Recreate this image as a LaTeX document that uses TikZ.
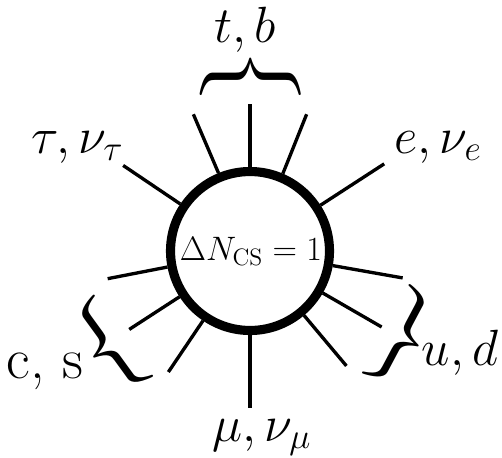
\RequirePackage{fix-cm}
\documentclass[tikz,border=0pt]{standalone}
\usepackage{amsmath,amssymb}
\usetikzlibrary{positioning, calc}

\newcommand{\bigbrace}[1]{\scalebox{1.25}[1]{$\big#1$}}

\begin{document}
\begin{tikzpicture}[x=0.02cm, y=0.02cm, every node/.style={align=center},
    spoke/.style={line width=1.9pt},
    lbl/.style={anchor=base, inner sep=0pt, font=\fontsize{29}{31}\selectfont},
    brc/.style={inner sep=0pt, font=\fontsize{48}{50}\selectfont}]
    \useasboundingbox ({-250},{-206}) rectangle ({252},{251});
    \node[draw, circle, line width=5.2pt, minimum size=3.18cm, inner sep=0pt] (cs) at ({0},{0}) {};
    \node[anchor=base, inner sep=0pt, font=\fontsize{19.3}{21}\selectfont] (dn) at ({1},{-9}) {$\Delta N_{\mathrm{CS}}=1$};

    \foreach \a/\r [count=\i] in {112.5/148, 90/147, 67.5/148, 33/160, 146/153, 350/155, 330/152, 310/150, 191/145, 213/144, 236/146, 270/157} {
        \coordinate (s\i) at ({\a}:{\r});
        \draw[spoke] (cs.\a) -- (s\i);
    }

    \node[brc, rotate=90] (btop) at ({1},{174}) {\bigbrace\}};
    \node[brc, rotate=-28] (bright) at ({152},{-87}) {\bigbrace\}};
    \node[brc, rotate=36] (bleft) at ({-141},{-96}) {\bigbrace\{};

    \node[lbl] (tb) at ({-4.5},{209}) {$t,b$};
    \node[lbl] (tau) at ({-172.5},{98}) {$\tau,\nu_\tau$};
    \node[lbl] (e) at ({188},{98}) {$e,\nu_e$};
    \node[lbl] (ud) at ({210},{-114}) {$u,d$};
    \node[lbl, font=\fontsize{33}{35}\selectfont] (cq) at ({-205},{-127}) {c, s};
    \node[lbl] (mu) at ({11.7},{-190}) {$\mu,\nu_\mu$};
\end{tikzpicture}
\end{document}
